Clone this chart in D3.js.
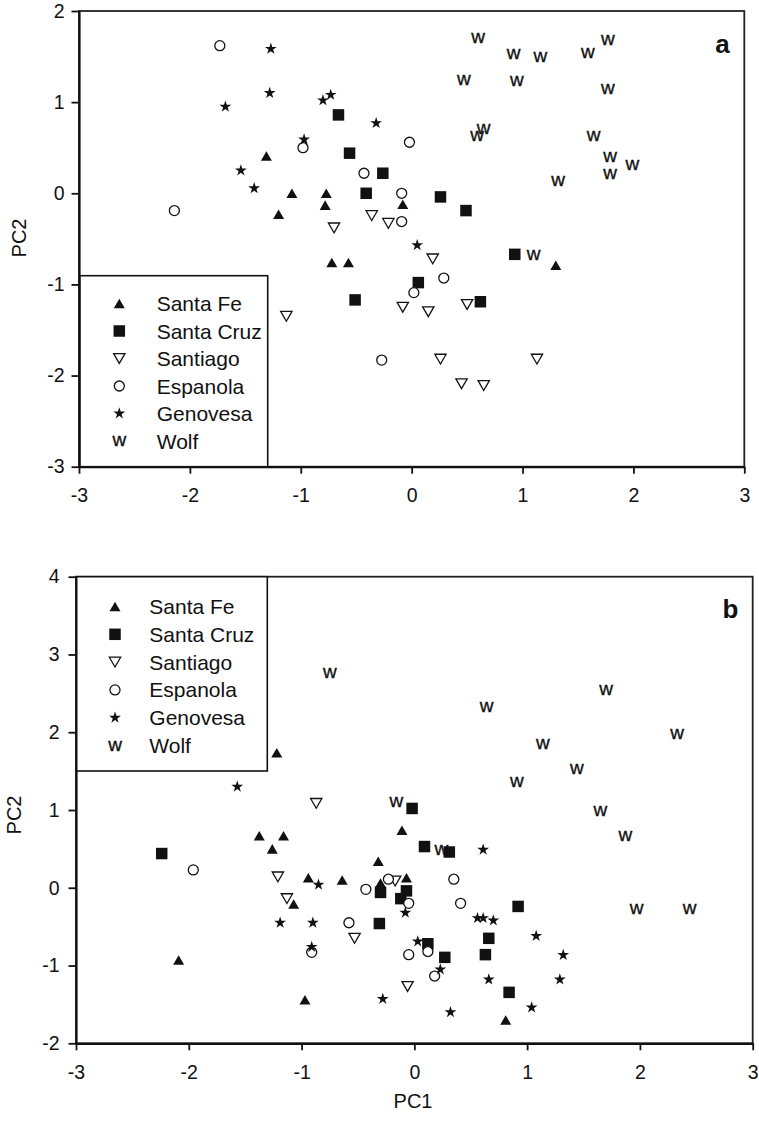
<!DOCTYPE html>
<html>
<head>
<meta charset="utf-8">
<script src="https://cdn.jsdelivr.net/npm/d3@7"></script>
<style>
  html, body { margin: 0; padding: 0; background: #fff; }
  svg { display: block; }
  text { font-family: "Liberation Sans", Arial, Helvetica, sans-serif; fill: #111; }
</style>
</head>
<body>
<svg id="chart" width="759" height="1123"></svg>
<script>
// ---------- DATA ----------
const islands = ["Santa Fe", "Santa Cruz", "Santiago", "Espanola", "Genovesa", "Wolf"];
const xTicks = [-3, -2, -1, 0, 1, 2, 3];
const yTicksA = [-3, -2, -1, 0, 1, 2];
const yTicksB = [-2, -1, 0, 1, 2, 3, 4];

// Panel a
const aSantaFe = [[-1.31,0.41],[-1.08,0.0],[-0.77,0.0],[-0.78,-0.13],[-1.20,-0.23],[-0.72,-0.76],[-0.57,-0.76],[-0.08,-0.12],[1.30,-0.79]];
const aSantaCruz = [[-0.66,0.86],[-0.56,0.44],[-0.26,0.22],[-0.41,0.0],[0.26,-0.04],[0.49,-0.19],[0.93,-0.67],[0.06,-0.98],[0.62,-1.19],[-0.51,-1.17]];
const aSantiago = [[-0.36,-0.245],[-0.70,-0.38],[-0.21,-0.33],[0.19,-0.72],[-0.08,-1.25],[0.15,-1.30],[0.50,-1.22],[0.26,-1.82],[1.13,-1.82],[0.45,-2.09],[0.65,-2.11],[-1.13,-1.35]];
const aEspanola = [[-1.73,1.62],[-0.98,0.50],[-0.43,0.22],[-0.02,0.56],[-0.09,0.0],[-0.09,-0.31],[-2.14,-0.19],[0.29,-0.93],[0.02,-1.09],[-0.27,-1.83]];
const aGenovesa = [[-1.27,1.585],[-1.28,1.10],[-1.68,0.95],[-0.80,1.02],[-0.73,1.08],[-0.32,0.77],[-0.97,0.59],[-1.54,0.25],[-1.42,0.055],[0.05,-0.57]];
const aWolf = [[0.60,1.70],[0.92,1.53],[1.16,1.50],[1.59,1.54],[1.77,1.68],[0.47,1.24],[0.95,1.23],[1.77,1.15],[0.59,0.63],[0.65,0.71],[1.64,0.63],[1.79,0.40],[1.99,0.315],[1.79,0.21],[1.32,0.14],[1.10,-0.68]];

// Panel b
const bSantaFe = [[-1.22,1.735],[-1.375,0.67],[-1.16,0.67],[-1.26,0.50],[-0.94,0.13],[-0.64,0.10],[-1.07,-0.21],[-2.09,-0.93],[-0.97,-1.44],[-0.11,0.74],[-0.32,0.34],[-0.07,0.13],[-0.30,0.06],[0.81,-1.70]];
const bSantaCruz = [[-2.24,0.44],[-0.02,1.02],[0.09,0.53],[0.31,0.46],[-0.30,-0.06],[-0.07,-0.04],[-0.12,-0.14],[0.92,-0.24],[-0.31,-0.46],[0.66,-0.65],[0.12,-0.72],[0.27,-0.895],[0.63,-0.86],[0.84,-1.345]];
const bSantiago = [[-0.87,1.085],[-1.21,0.14],[-1.13,-0.14],[-0.53,-0.65],[-0.17,0.086],[-0.06,-1.27]];
const bEspanola = [[-1.96,0.23],[-0.43,-0.02],[-0.58,-0.45],[-0.91,-0.83],[-0.23,0.11],[0.35,0.11],[-0.05,-0.20],[0.41,-0.20],[0.12,-0.82],[-0.05,-0.86],[0.18,-1.135]];
const bGenovesa = [[-1.57,1.30],[-0.85,0.04],[-1.19,-0.45],[-0.90,-0.45],[-0.91,-0.76],[0.61,0.49],[-0.08,-0.32],[0.56,-0.39],[0.61,-0.39],[0.70,-0.42],[1.08,-0.62],[0.03,-0.69],[1.32,-0.865],[0.23,-1.05],[0.66,-1.18],[1.29,-1.18],[-0.28,-1.43],[0.32,-1.60],[1.04,-1.54]];
const bWolf = [[-0.75,2.76],[0.64,2.33],[1.70,2.55],[2.33,1.98],[1.14,1.85],[1.44,1.535],[0.91,1.36],[-0.16,1.105],[1.65,0.985],[1.87,0.665],[1.97,-0.27],[2.44,-0.27],[0.24,0.485]];

// ---------- SYMBOLS ----------
const INK = "#111";
const triUp = { draw(ctx, size) { const s = Math.sqrt(size), h = s * Math.sqrt(3) / 2;
  ctx.moveTo(0, -h / 2); ctx.lineTo(s / 2, h / 2); ctx.lineTo(-s / 2, h / 2); ctx.closePath(); } };
const triDown = { draw(ctx, size) { const s = Math.sqrt(size), h = s * Math.sqrt(3) / 2;
  ctx.moveTo(0, h / 2); ctx.lineTo(s / 2, -h / 2); ctx.lineTo(-s / 2, -h / 2); ctx.closePath(); } };

const styles = [
  { type: triUp, size: 11 * 11, fill: INK, stroke: "none" },
  { type: d3.symbolSquare, size: 11.5 * 11.5, fill: INK, stroke: "none" },
  { type: triDown, size: 11.3 * 11.3, fill: "#fff", stroke: INK },
  { type: d3.symbolCircle, size: Math.PI * 5 * 5, fill: "#fff", stroke: INK },
  { type: d3.symbolStar, size: 6.2 * 6.2 / 0.8908130915292852, fill: INK, stroke: "none" },
  { type: "w" }
];

const svg = d3.select("#chart");
svg.append("rect").attr("width", 759).attr("height", 1123).attr("fill", "#fff");

function drawMark(g, st, x, y) {
  if (st.type === "w") {
    g.append("text").attr("x", x).attr("y", y).attr("dy", "0.27em")
      .attr("text-anchor", "middle").style("font-size", "19px")
      .attr("stroke", INK).attr("stroke-width", 0.35).text("w");
  } else {
    g.append("path").attr("transform", `translate(${x},${y})`)
      .attr("d", d3.symbol(st.type, st.size)())
      .attr("fill", st.fill).attr("stroke", st.stroke).attr("stroke-width", 1.3);
  }
}

function drawPanel(cfg) {
  const x = d3.scaleLinear().domain([-3, 3]).range(cfg.xr);
  const y = d3.scaleLinear().domain(cfg.yd).range(cfg.yr);
  const g = svg.append("g");

  // frame (top/right)
  g.append("rect").attr("x", cfg.xr[0]).attr("y", cfg.yr[1])
    .attr("width", cfg.xr[1] - cfg.xr[0]).attr("height", cfg.yr[0] - cfg.yr[1])
    .attr("fill", "none").attr("stroke", "#222").attr("stroke-width", 1.8);

  // axes
  const ax = g.append("g").attr("transform", `translate(0,${cfg.yr[0]})`)
    .call(d3.axisBottom(x).tickValues(xTicks).tickSize(7).tickSizeOuter(0).tickPadding(14.5).tickFormat(d3.format("d")));
  const ay = g.append("g").attr("transform", `translate(${cfg.xr[0]},0)`)
    .call(d3.axisLeft(y).tickValues(cfg.yt).tickSize(7.5).tickSizeOuter(0).tickPadding(cfg.yPad).tickFormat(d3.format("d")));
  [ax, ay].forEach(a => {
    a.select(".domain").attr("stroke", "#111").attr("stroke-width", 2.2);
    a.selectAll(".tick line").attr("stroke", "#111").attr("stroke-width", 1.8);
    a.selectAll(".tick text").style("font-size", "19.5px").attr("fill", "#111")
      .style("font-family", '"Liberation Sans", Arial, sans-serif');
  });
  g.selectAll(".tick text").text(d => String(d).replace("\u2212", "-"));

  // data
  const marks = g.append("g");
  cfg.series.forEach((pts, i) => {
    pts.forEach(p => drawMark(marks, styles[i], x(p[0]), y(p[1])));
  });

  // legend
  const L = cfg.legend;
  g.append("rect").attr("x", L.x0).attr("y", L.y0).attr("width", L.x1 - L.x0).attr("height", L.y1 - L.y0)
    .attr("fill", "#fff").attr("stroke", "#111").attr("stroke-width", 1.6);
  islands.forEach((name, i) => {
    const ry = L.row0 + i * L.step;
    drawMark(g, styles[i], L.sx, ry);
    g.append("text").attr("x", L.tx).attr("y", ry).attr("dy", "0.36em")
      .style("font-size", "21px").text(name);
  });

  // panel letter
  g.append("text").attr("x", cfg.letter[0]).attr("y", cfg.letter[1]).attr("text-anchor", "middle")
    .style("font-size", "26px").style("font-weight", "bold").text(cfg.letter[2]);

  // y label
  g.append("text").attr("transform", `translate(${cfg.ylab[0]},${cfg.ylab[1]}) rotate(-90)`)
    .attr("text-anchor", "middle").attr("dy", "0.36em").style("font-size", "20px").text("PC2");
}

drawPanel({
  xr: [79, 744.3], yd: [-3, 2], yr: [466.7, 11], yt: yTicksA, yPad: 7,
  series: [aSantaFe, aSantaCruz, aSantiago, aEspanola, aGenovesa, aWolf],
  legend: { x0: 80, x1: 267.7, y0: 275.7, y1: 466.7, sx: 119.3, tx: 156.7, row0: 303.5, step: 27.5 },
  letter: [722.5, 52.5, "a"], ylab: [18.5, 238]
});

drawPanel({
  xr: [76, 752.7], yd: [-2, 4], yr: [1043.3, 576.7], yt: yTicksB, yPad: 9,
  series: [bSantaFe, bSantaCruz, bSantiago, bEspanola, bGenovesa, bWolf],
  legend: { x0: 76.7, x1: 267.3, y0: 576.7, y1: 771, sx: 115, tx: 149.3, row0: 606.5, step: 27.8 },
  letter: [730.5, 618.3, "b"], ylab: [14, 815]
});

svg.append("text").attr("x", 413).attr("y", 1101).attr("dy", "0.36em").attr("text-anchor", "middle")
  .style("font-size", "20px").text("PC1");
</script>
</body>
</html>
